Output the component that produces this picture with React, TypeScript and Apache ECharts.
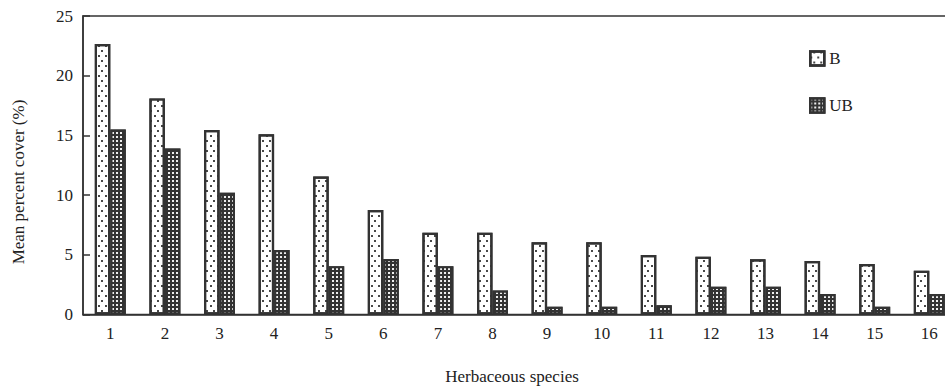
import React, { useEffect, useRef } from "react";
import * as echarts from "echarts";

const categories = ["1", "2", "3", "4", "5", "6", "7", "8", "9", "10", "11", "12", "13", "14", "15", "16"];
const seriesB = [22.65, 18.1, 15.45, 15.1, 11.55, 8.75, 6.85, 6.85, 6.05, 6.05, 4.98, 4.84, 4.62, 4.48, 4.23, 3.67];
const seriesUB = [15.5, 13.9, 10.2, 5.4, 4.05, 4.65, 4.05, 2.0, 0.65, 0.65, 0.78, 2.33, 2.33, 1.72, 0.65, 1.72];
const yTicks = [0, 5, 10, 15, 20, 25];

const FONT = "'Liberation Serif', 'DejaVu Serif', serif";
const INK = "#333";

export default function App() {
  const ref = useRef<HTMLDivElement>(null);
  useEffect(() => {
    if (!ref.current) return;
    const chart = echarts.init(ref.current, undefined, { renderer: "svg" });
    chart.setOption({
      animation: false,
      backgroundColor: "#fff",
      textStyle: { fontFamily: FONT, color: "#222" },
      grid: {
        left: 83,
        top: 16,
        width: 873.6,
        height: 298.5,
        show: true,
        borderColor: INK,
        borderWidth: 1.5,
        backgroundColor: "transparent",
      },
      legend: {
        orient: "vertical",
        left: 804,
        top: 45,
        itemWidth: 14,
        itemHeight: 14,
        itemGap: 30,
        icon: "rect",
        itemStyle: { borderColor: INK, borderWidth: 2.5 },
        textStyle: { fontFamily: FONT, fontSize: 17, color: "#222" },
        data: ["B", "UB"],
      },
      xAxis: {
        type: "category",
        data: categories,
        axisLine: { lineStyle: { color: INK, width: 1.5 } },
        axisTick: { inside: true, length: 7, lineStyle: { color: INK, width: 1.5 } },
        axisLabel: { fontFamily: FONT, fontSize: 17, color: "#222", margin: 10 },
      },
      yAxis: {
        type: "value",
        min: yTicks[0],
        max: yTicks[yTicks.length - 1],
        interval: 5,
        splitLine: { show: false },
        axisLine: { show: true, lineStyle: { color: INK, width: 1.5 } },
        axisTick: { show: true, inside: true, length: 7, lineStyle: { color: INK, width: 1.5 } },
        axisLabel: { fontFamily: FONT, fontSize: 17, color: "#222", margin: 10 },
      },
      graphic: [
        {
          type: "text",
          x: 18,
          y: 182,
          rotation: Math.PI / 2,
          style: {
            text: "Mean percent cover (%)",
            font: `17px ${FONT}`,
            fill: "#222",
            textAlign: "center",
            textVerticalAlign: "middle",
          },
        },
        {
          type: "text",
          x: 512,
          y: 376,
          style: {
            text: "Herbaceous species",
            font: `17px ${FONT}`,
            fill: "#222",
            textAlign: "center",
            textVerticalAlign: "middle",
          },
        },
      ],
      series: [
        {
          name: "B",
          type: "bar",
          data: seriesB,
          barWidth: 15.5,
          barGap: "0%",
          itemStyle: {
            color: "#fff",
            borderColor: INK,
            borderWidth: 2.2,
            decal: {
              symbol: "rect",
              symbolSize: 0.9,
              color: "#333",
              dashArrayX: [[1.4, 4.6], [0, 3, 1.4, 1.6]],
              dashArrayY: [1.4, 2.6],
            },
          },
        },
        {
          name: "UB",
          type: "bar",
          data: seriesUB,
          barWidth: 15.5,
          itemStyle: {
            color: "#333",
            borderColor: INK,
            borderWidth: 2.2,
            decal: {
              symbol: "rect",
              symbolSize: 1,
              color: "#eee",
              dashArrayX: [1.3, 1.7],
              dashArrayY: [1.3, 1.7],
            },
          },
        },
      ],
    });
    return () => chart.dispose();
  }, []);
  return (
    <div style={{ position: "fixed", left: 0, top: 0, width: 945, height: 392, overflow: "hidden", background: "#fff" }}>
      <div ref={ref} style={{ width: 960, height: 392 }} />
    </div>
  );
}
